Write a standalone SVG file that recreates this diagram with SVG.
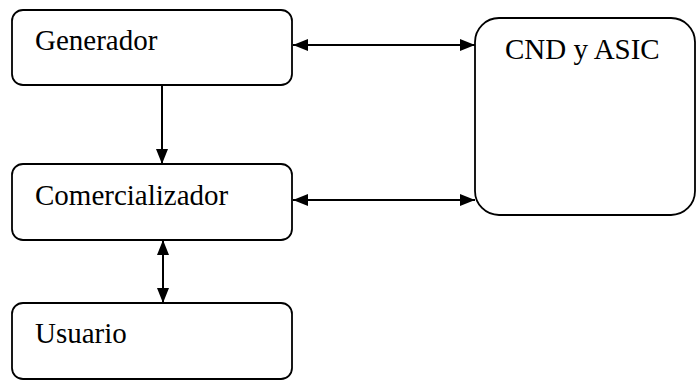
<svg xmlns="http://www.w3.org/2000/svg" width="697" height="382" viewBox="0 0 697 382">
<style>
.box{fill:#fff;stroke:#000;stroke-width:1.8}
.lbl{font-family:"Liberation Serif","Times New Roman",serif;font-size:29px;fill:#000}
.con{stroke:#000;stroke-width:2;fill:none}
</style>
<defs>
<marker id="ah" viewBox="0 0 15 12" refX="15" refY="6" markerWidth="15" markerHeight="12" markerUnits="userSpaceOnUse" orient="auto-start-reverse">
<path d="M0,0 L15,6 L0,12 Z" fill="#000"/>
</marker>
</defs>
<rect width="697" height="382" fill="#fff"/>
<g id="connectors">
<line class="con" x1="293" y1="45" x2="475" y2="45" marker-start="url(#ah)" marker-end="url(#ah)"/>
<line class="con" x1="293" y1="200" x2="475" y2="200" marker-start="url(#ah)" marker-end="url(#ah)"/>
<line class="con" x1="162" y1="85" x2="162" y2="164" marker-end="url(#ah)"/>
<line class="con" x1="163" y1="240" x2="163" y2="303" marker-start="url(#ah)" marker-end="url(#ah)"/>
</g>
<g id="generador">
<rect class="box" x="12" y="10" width="280" height="75" rx="11"/>
<text class="lbl" x="35" y="50">Generador</text>
</g>
<g id="comercializador">
<rect class="box" x="12" y="164" width="280" height="76" rx="11"/>
<text class="lbl" x="35" y="205">Comercializador</text>
</g>
<g id="usuario">
<rect class="box" x="12" y="303" width="280" height="76" rx="11"/>
<text class="lbl" x="35" y="343">Usuario</text>
</g>
<g id="cnd">
<rect class="box" x="475" y="18" width="220" height="197" rx="24"/>
<text class="lbl" x="505" y="59">CND y ASIC</text>
</g>
</svg>
